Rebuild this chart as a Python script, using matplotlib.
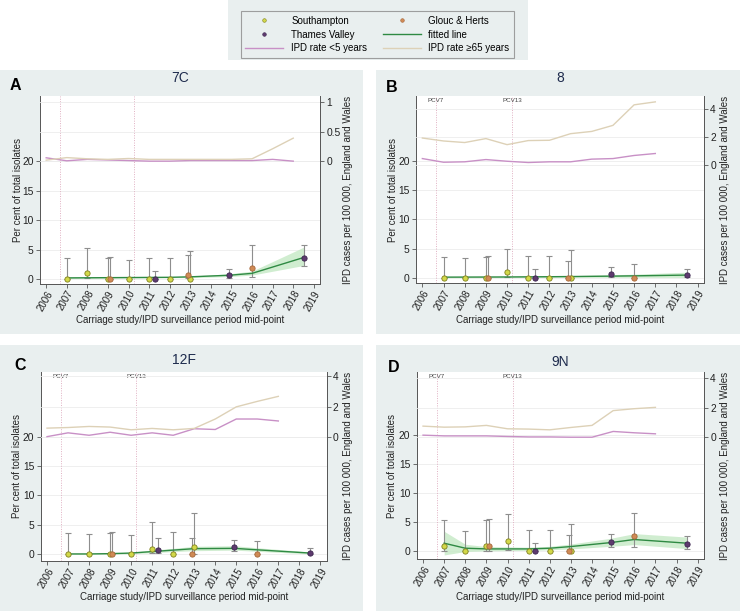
import matplotlib
matplotlib.use('Agg')
import matplotlib.pyplot as plt
from matplotlib.patches import Rectangle
from matplotlib.lines import Line2D
import numpy as np

plt.rcParams['font.family'] = ['Liberation Sans', 'DejaVu Sans']

# --- data ---------------------------------------------------------------
# x positions (study mid-points) shared by all serotypes
sot_x = [2007, 2008, 2009, 2010, 2011, 2012, 2013]
gh_x = [2009.1, 2012.9, 2016]
tv_x = [2011.3, 2014.9, 2018.5]
fit_x = [2007, 2008, 2009, 2010, 2011, 2012, 2013, 2014.9, 2016, 2018.5]
ipd_years_a = list(range(2006, 2019))
ipd_years = list(range(2006, 2018))

# 7C
a_sot = [0, 0.97, 0, 0, 0, 0, 0]
a_sot_lo = [0, 0.1, 0, 0, 0, 0, 0]
a_sot_hi = [3.5, 5.2, 3.6, 3.3, 3.6, 3.6, 4.7]
a_gh = [0, 0.7, 1.95]
a_gh_lo = [0, 0.15, 0.35]
a_gh_hi = [3.7, 4.1, 5.7]
a_tv = [0, 0.65, 3.65]
a_tv_lo = [0, 0.2, 2.2]
a_tv_hi = [1.4, 1.75, 5.75]
a_fit = [0.2, 0.22, 0.24, 0.26, 0.28, 0.3, 0.38, 0.65, 0.97, 3.65]
a_fit_lo = [0.1, 0.12, 0.15, 0.18, 0.2, 0.22, 0.25, 0.42, 0.68, 2.3]
a_fit_hi = [0.35, 0.35, 0.35, 0.36, 0.38, 0.4, 0.5, 0.9, 1.35, 5.4]
a_u5 = [0.057, 0.006, 0.03, 0.02, 0.01, 0.0, 0.0, 0.01, 0.01, 0.01, 0.01, 0.03, 0.0]
a_o65 = [0.017, 0.06, 0.04, 0.03, 0.045, 0.03, 0.03, 0.03, 0.03, 0.03, 0.04, 0.21, 0.39]

# 8
b_sot = [0, 0, 0, 0.95, 0, 0, 0]
b_sot_lo = [0, 0, 0, 0.1, 0, 0, 0]
b_sot_hi = [3.6, 3.5, 3.6, 4.9, 3.7, 3.75, 4.7]
b_gh = [0, 0, 0]
b_gh_lo = [0, 0, 0]
b_gh_hi = [3.75, 2.85, 2.4]
b_tv = [0, 0.73, 0.45]
b_tv_lo = [0, 0.2, 0.1]
b_tv_hi = [1.5, 1.85, 1.57]
b_fit = [0.15, 0.16, 0.17, 0.18, 0.2, 0.22, 0.25, 0.32, 0.37, 0.5]
b_fit_lo = [0.05, 0.06, 0.07, 0.08, 0.1, 0.1, 0.12, 0.12, 0.12, 0.1]
b_fit_hi = [0.25, 0.26, 0.27, 0.28, 0.3, 0.34, 0.4, 0.55, 0.65, 1.0]
b_u5 = [0.49, 0.23, 0.26, 0.42, 0.3, 0.21, 0.26, 0.26, 0.45, 0.49, 0.71, 0.85]
b_o65 = [1.95, 1.74, 1.63, 1.91, 1.48, 1.77, 1.79, 2.26, 2.42, 2.85, 4.31, 4.52]

# 12F
c_sot = [0, 0, 0, 0, 0.97, 0, 1.25]
c_sot_lo = [0, 0, 0, 0, 0.15, 0, 0.1]
c_sot_hi = [3.58, 3.5, 3.6, 3.3, 5.45, 3.7, 7.05]
c_gh = [0, 0, 0]
c_gh_lo = [0, 0, 0]
c_gh_hi = [3.75, 2.73, 2.33]
c_tv = [0.68, 1.2, 0.23]
c_tv_lo = [0.15, 0.6, 0.05]
c_tv_hi = [2.73, 2.5, 1.14]
c_fit = [0.05, 0.05, 0.1, 0.2, 0.45, 0.7, 0.95, 1.0, 0.75, 0.2]
c_fit_lo = [0.0, 0.0, 0.02, 0.08, 0.25, 0.45, 0.6, 0.7, 0.5, 0.05]
c_fit_hi = [0.15, 0.15, 0.2, 0.35, 0.7, 1.0, 1.35, 1.45, 1.1, 0.4]
c_u5 = [0.04, 0.29, 0.13, 0.33, 0.13, 0.29, 0.13, 0.56, 0.51, 1.2, 1.2, 1.07]
c_o65 = [0.6, 0.64, 0.71, 0.67, 0.49, 0.58, 0.49, 0.58, 1.2, 2.0, 2.36, 2.69]

# 9N
d_sot = [0.93, 0, 0.87, 1.8, 0, 0, 0]
d_sot_lo = [0, 0, 0, 0.2, 0, 0, 0]
d_sot_hi = [5.3, 3.43, 5.35, 6.4, 3.6, 3.66, 4.7]
d_gh = [0.93, 0, 2.6]
d_gh_lo = [0.05, 0, 0.7]
d_gh_hi = [5.58, 2.7, 6.57]
d_tv = [0, 1.57, 1.28]
d_tv_lo = [0, 0.76, 0.35]
d_tv_hi = [1.4, 2.97, 2.6]
d_fit = [1.34, 0.47, 0.35, 0.35, 0.35, 0.47, 0.76, 1.45, 1.98, 1.34]
d_fit_lo = [-0.7, -0.1, 0.0, 0.05, 0.1, 0.2, 0.35, 0.8, 1.1, 0.4]
d_fit_hi = [3.4, 1.16, 0.75, 0.7, 0.65, 0.8, 1.2, 2.2, 3.0, 2.4]
d_u5 = [0.14, 0.09, 0.09, 0.09, 0.05, 0.02, 0.02, 0.0, 0.0, 0.39, 0.3, 0.23]
d_o65 = [0.75, 0.68, 0.7, 0.8, 0.57, 0.55, 0.5, 0.66, 0.8, 1.8, 1.93, 2.02]

pcv7_year = 2006.65
pcv13_year = 2010.25

# --- style --------------------------------------------------------------
bg = '#e9efef'
sot_face, sot_edge = '#d2d848', '#80801f'
gh_face, gh_edge = '#d08a55', '#a5673a'
tv_face, tv_edge = '#5e3a6e', '#3c2650'
fit_color = '#2f8a43'
band_color = '#c8eac8'
u5_color = '#c890c6'
o65_color = '#ddd1b7'
err_color = '#8e8e8e'
pcv_color = '#e0b0c2'

W, H = 740, 611
fig = plt.figure(figsize=(W / 100, H / 100), dpi=100)
fig.patch.set_facecolor('white')


def px_rect(left, top, right, bottom):
    return [left / W, 1 - bottom / H, (right - left) / W, (bottom - top) / H]


def add_bg(left, top, right, bottom):
    r = Rectangle((left / W, 1 - bottom / H), (right - left) / W, (bottom - top) / H,
                  transform=fig.transFigure, facecolor=bg, edgecolor='none', zorder=-5)
    fig.patches.append(r)


def draw_panel(letter, title, axrect, bgrect, ylo, c0, k, rticks, rlabels,
               sot, sot_lo, sot_hi, gh, gh_lo, gh_hi, tv, tv_lo, tv_hi,
               fit, fit_lo, fit_hi, years, u5, o65, pcv_text, letter_xy, title_y,
               ylab_x, rlab_x, xlab_y):
    add_bg(*bgrect)
    ax = fig.add_axes(px_rect(*axrect))
    ax.set_facecolor('white')
    yhi = 31.05
    ax.set_xlim(2005.7, 2019.3)
    ax.set_ylim(ylo, yhi)

    ax.set_yticks([0, 5, 10, 15, 20])
    ax.set_xticks(range(2006, 2020))
    ax.set_xticklabels([str(y) for y in range(2006, 2020)], rotation=60,
                       ha='right', rotation_mode='anchor')
    ax.grid(axis='y', color='#ececec', lw=0.6, zorder=0)
    ax.set_axisbelow(True)
    for s in ['top', 'right']:
        ax.spines[s].set_visible(False)
    for s in ['left', 'bottom']:
        ax.spines[s].set_color('#555555')
        ax.spines[s].set_linewidth(0.7)
    ax.tick_params(axis='y', direction='out', length=3, width=0.6, colors='#555555',
                   labelcolor='#222222', labelsize=7.4, pad=1.5)
    ax.tick_params(axis='x', direction='out', length=3, width=0.6, colors='#555555',
                   labelcolor='#222222', labelsize=7.0, pad=0.8)

    # vaccine introduction lines
    for yr, lab in [(pcv7_year, 'PCV7'), (pcv13_year, 'PCV13')]:
        ax.axvline(yr, color=pcv_color, lw=0.7, ls=(0, (1, 1.5)), zorder=1)
        if pcv_text:
            ax.text(yr, 1 - 4.5 / (axrect[3] - axrect[1]), lab, transform=ax.get_xaxis_transform(),
                    ha='center', va='center', fontsize=4.5, color='#444444')

    # fitted line with confidence band
    ax.fill_between(fit_x, fit_lo, fit_hi, color=band_color, alpha=0.85, lw=0, zorder=2)
    ax.plot(fit_x, fit, color=fit_color, lw=1.0, zorder=4)

    # error bars and points per study site
    for xs, ys, lo, hi, fc, ec in [(sot_x, sot, sot_lo, sot_hi, sot_face, sot_edge),
                                   (gh_x, gh, gh_lo, gh_hi, gh_face, gh_edge),
                                   (tv_x, tv, tv_lo, tv_hi, tv_face, tv_edge)]:
        ys = np.array(ys)
        yerr = [ys - np.array(lo), np.array(hi) - ys]
        ax.errorbar(xs, ys, yerr=yerr, fmt='none', ecolor=err_color, elinewidth=0.8,
                    capsize=2.2, capthick=0.8, zorder=3)
        ax.plot(xs, ys, 'o', ms=3.8, mfc=fc, mec=ec, mew=0.6, ls='none', zorder=5)

    # IPD rates on the right-hand axis
    ax2 = ax.twinx()
    ax2.set_ylim((ylo - c0) / k, (yhi - c0) / k)
    ax2.plot(years, u5, color=u5_color, lw=1.0, zorder=2)
    ax2.plot(years, o65, color=o65_color, lw=1.0, zorder=2)
    ax2.set_yticks(rticks)
    ax2.set_yticklabels(rlabels)
    ax2.grid(axis='y', color='#ececec', lw=0.6)
    ax2.set_axisbelow(True)
    for s in ['top', 'left', 'bottom']:
        ax2.spines[s].set_visible(False)
    ax2.spines['right'].set_color('#555555')
    ax2.spines['right'].set_linewidth(0.7)
    ax2.tick_params(direction='out', length=3, width=0.6, colors='#555555',
                    labelcolor='#222222', labelsize=7.4, pad=1.5)

    cx = (axrect[0] + axrect[2]) / 2
    cy = (axrect[1] + axrect[3]) / 2
    fig.text(letter_xy[0] / W, 1 - letter_xy[1] / H, letter, fontsize=11.5,
             fontweight='bold', ha='center', va='center')
    fig.text(cx / W, 1 - title_y / H, title, fontsize=10, color='#1e2b4d',
             ha='center', va='center')
    fig.text(ylab_x / W, 1 - cy / H, 'Per cent of total isolates', rotation=90,
             fontsize=7, ha='center', va='center', color='#222222')
    fig.text(rlab_x / W, 1 - cy / H, 'IPD cases per 100 000, England and Wales',
             rotation=90, fontsize=7, ha='center', va='center', color='#222222')
    fig.text(cx / W, 1 - xlab_y / H, 'Carriage study/IPD surveillance period mid-point',
             fontsize=7, ha='center', va='center', color='#222222')
    return ax


draw_panel('A', '7C', (40, 96, 320, 283.5), (0, 70, 363, 334), -0.75, 20.0, 10.0,
           [0, 0.5, 1], ['0', '0.5', '1'],
           a_sot, a_sot_lo, a_sot_hi, a_gh, a_gh_lo, a_gh_hi, a_tv, a_tv_lo, a_tv_hi,
           a_fit, a_fit_lo, a_fit_hi, ipd_years_a, a_u5, a_o65, False,
           (15.5, 85), 78, 18, 348, 320)
draw_panel('B', '8', (416, 96, 704, 283), (376, 70, 740, 334), -0.85, 19.2, 2.4,
           [0, 2, 4], ['0', '2', '4'],
           b_sot, b_sot_lo, b_sot_hi, b_gh, b_gh_lo, b_gh_hi, b_tv, b_tv_lo, b_tv_hi,
           b_fit, b_fit_lo, b_fit_hi, ipd_years, b_u5, b_o65, True,
           (392, 87), 78, 393, 725, 320)
draw_panel('C', '12F', (40.7, 371.7, 326.7, 560.7), (0, 345, 363, 611), -1.1, 19.9, 2.585,
           [0, 2, 4], ['0', '2', '4'],
           c_sot, c_sot_lo, c_sot_hi, c_gh, c_gh_lo, c_gh_hi, c_tv, c_tv_lo, c_tv_hi,
           c_fit, c_fit_lo, c_fit_hi, ipd_years, c_u5, c_o65, True,
           (20, 366), 360, 17, 348, 597)
draw_panel('D', '9N', (416.7, 371.7, 704, 559.3), (376, 345, 740, 611), -1.45, 19.7, 2.56,
           [0, 2, 4], ['0', '2', '4'],
           d_sot, d_sot_lo, d_sot_hi, d_gh, d_gh_lo, d_gh_hi, d_tv, d_tv_lo, d_tv_hi,
           d_fit, d_fit_lo, d_fit_hi, ipd_years, d_u5, d_o65, True,
           (394, 367), 362, 392, 725, 597)

# legend area at the top
add_bg(228, 0, 528, 60)
h_sot = Line2D([], [], marker='o', ls='none', ms=2.6, mfc=sot_face, mec=sot_edge, mew=0.4)
h_gh = Line2D([], [], marker='o', ls='none', ms=2.6, mfc=gh_face, mec=gh_edge, mew=0.4)
h_tv = Line2D([], [], marker='o', ls='none', ms=2.6, mfc=tv_face, mec=tv_edge, mew=0.4)
h_fit = Line2D([], [], color=fit_color, lw=1.0)
h_u5 = Line2D([], [], color=u5_color, lw=1.0)
h_o65 = Line2D([], [], color=o65_color, lw=1.0)
handles = [h_sot, h_tv, h_u5, h_gh, h_fit, h_o65]
labels = ['Southampton', 'Thames Valley', 'IPD rate <5 years',
          'Glouc & Herts', 'fitted line', 'IPD rate ≥65 years']
leg = fig.legend(handles, labels, ncol=2, loc='center',
                 bbox_to_anchor=(377.5 / W, 1 - 34.5 / H), fontsize=7,
                 handlelength=3.9, handletextpad=0.8, columnspacing=1.6,
                 labelspacing=0.4, borderpad=0.5, fancybox=False,
                 frameon=True)
leg.get_frame().set_facecolor(bg)
leg.get_frame().set_edgecolor('#8a8a8a')
leg.get_frame().set_linewidth(0.8)

fig.savefig('out.png', dpi=100)
